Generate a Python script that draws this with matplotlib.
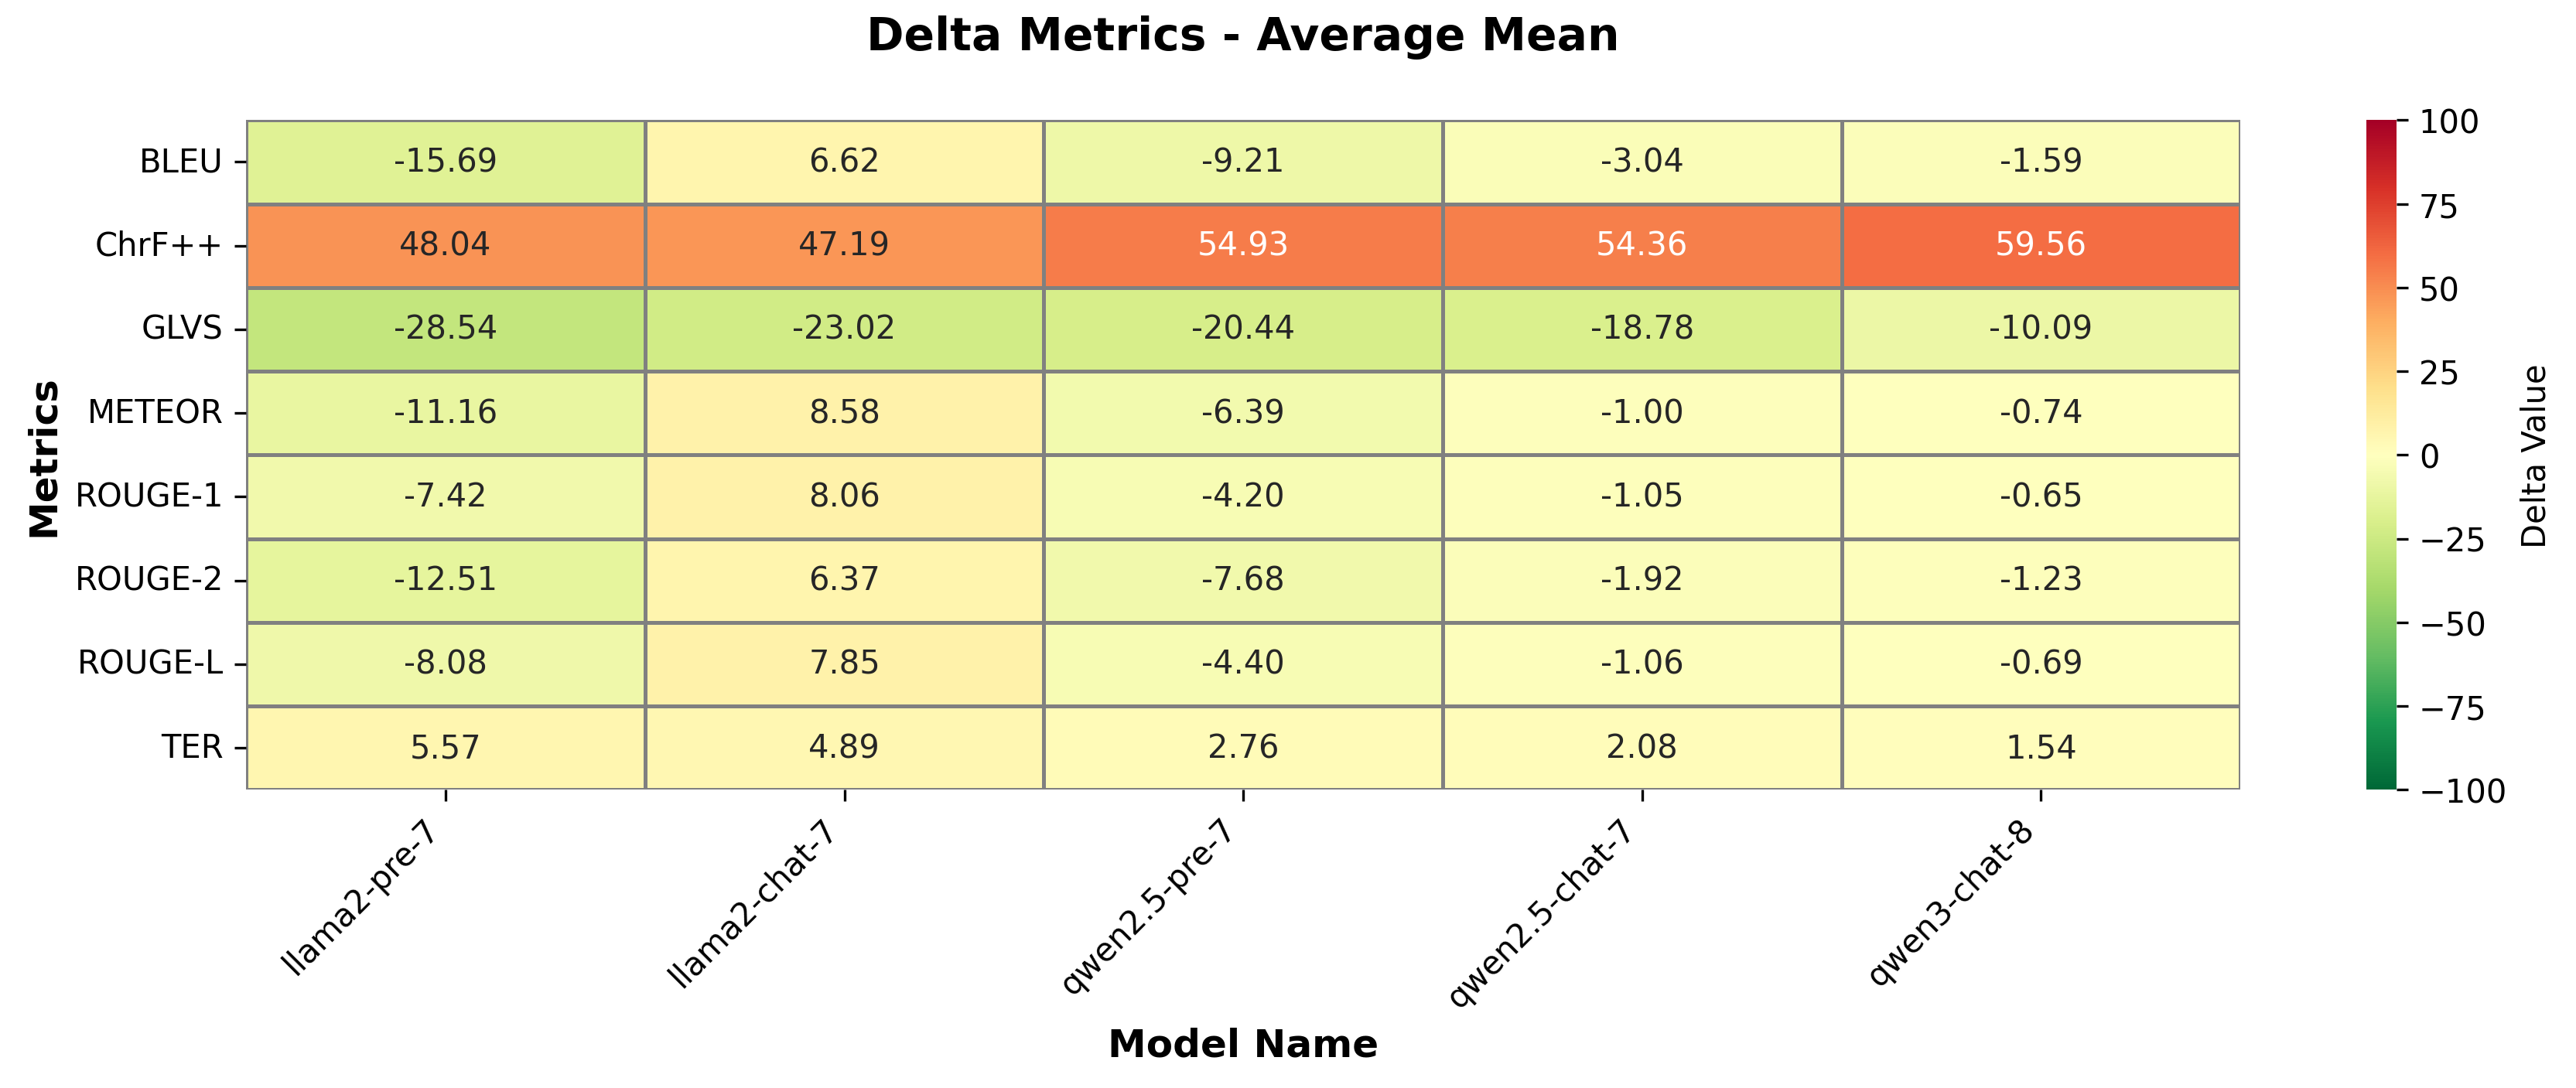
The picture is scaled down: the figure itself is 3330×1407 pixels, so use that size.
import matplotlib
matplotlib.use("Agg")
import matplotlib.pyplot as plt
import seaborn as sns
import pandas as pd

models = ["llama2-pre-7", "llama2-chat-7", "qwen2.5-pre-7", "qwen2.5-chat-7", "qwen3-chat-8"]
metrics = ["BLEU", "ChrF++", "GLVS", "METEOR", "ROUGE-1", "ROUGE-2", "ROUGE-L", "TER"]

# one list per model, in metric order
llama2_pre_7 = [-15.69, 48.04, -28.54, -11.16, -7.42, -12.51, -8.08, 5.57]
llama2_chat_7 = [6.62, 47.19, -23.02, 8.58, 8.06, 6.37, 7.85, 4.89]
qwen25_pre_7 = [-9.21, 54.93, -20.44, -6.39, -4.20, -7.68, -4.40, 2.76]
qwen25_chat_7 = [-3.04, 54.36, -18.78, -1.00, -1.05, -1.92, -1.06, 2.08]
qwen3_chat_8 = [-1.59, 59.56, -10.09, -0.74, -0.65, -1.23, -0.69, 1.54]

df = pd.DataFrame(
    {
        models[0]: llama2_pre_7,
        models[1]: llama2_chat_7,
        models[2]: qwen25_pre_7,
        models[3]: qwen25_chat_7,
        models[4]: qwen3_chat_8,
    },
    index=metrics,
)

fig = plt.figure(figsize=(11.103, 4.693), dpi=300)
ax = fig.add_axes([0.0955, 0.274, 0.774, 0.615])
cax = fig.add_axes([0.9185, 0.274, 0.0115, 0.615])

sns.heatmap(
    df, ax=ax, cbar_ax=cax, cmap="RdYlGn_r", vmin=-100, vmax=100, center=0,
    annot=True, fmt=".2f", annot_kws={"fontsize": 10},
    linewidths=0.8, linecolor="gray",
    cbar_kws={"label": "Delta Value"},
)

ax.set_title("Delta Metrics - Average Mean", fontsize=14, fontweight="bold", pad=22)
ax.set_xlabel("Model Name", fontsize=12, fontweight="bold")
ax.set_ylabel("Metrics", fontsize=12, fontweight="bold")
ax.set_xticklabels(ax.get_xticklabels(), rotation=45, ha="right", fontsize=10)
ax.set_yticklabels(ax.get_yticklabels(), rotation=0, fontsize=10)
cax.tick_params(labelsize=10)
cax.yaxis.label.set_size(10)

fig.savefig("out.png", dpi=300)
